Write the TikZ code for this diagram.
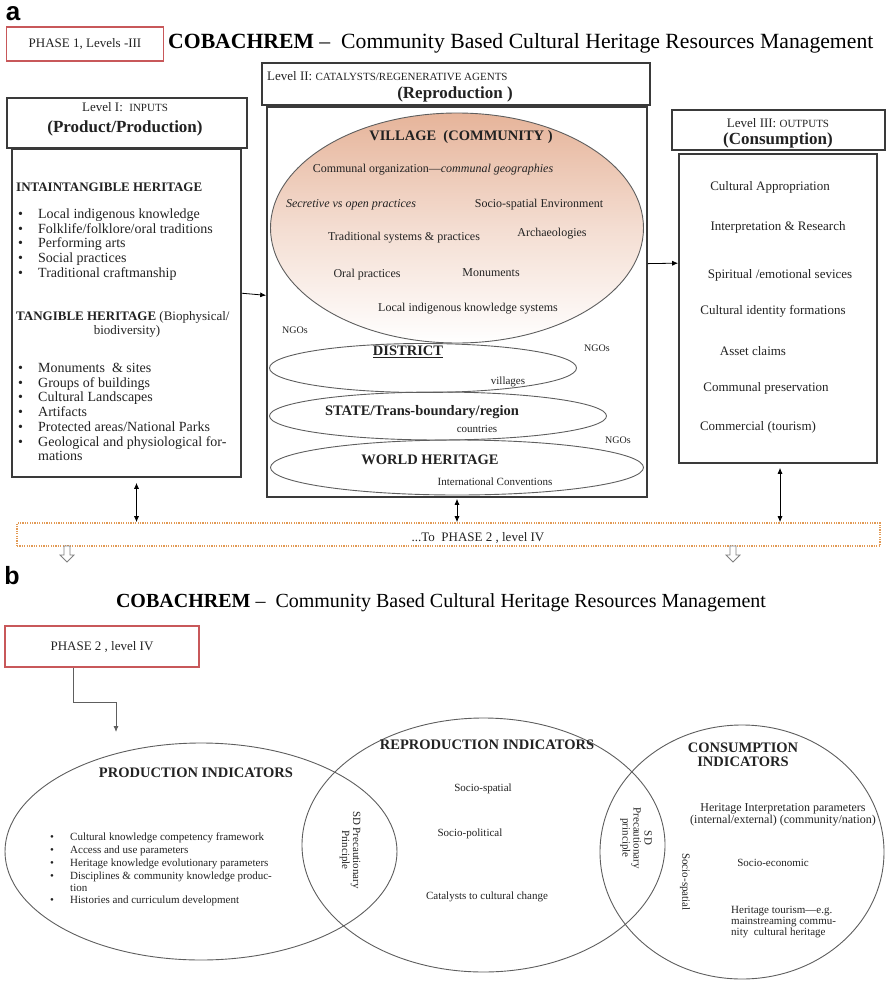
\documentclass[tikz,border=0pt]{standalone}
\usepackage{fontspec}
\setmainfont{Liberation Serif}
\newfontfamily\sansbold{Liberation Sans}
\usetikzlibrary{shapes.geometric,arrows.meta,calc}
\definecolor{redbox}{HTML}{C8585A}
\definecolor{dotorange}{HTML}{E29A55}
\definecolor{salmon}{HTML}{E6B49A}
\definecolor{boxline}{HTML}{3A3A3A}
\definecolor{ellline}{HTML}{5E5E5E}
\definecolor{txtgray}{HTML}{222222}
\newcommand\fsz[1]{\fontsize{#1}{#1}\selectfont}
\begin{document}
\begin{tikzpicture}[x=1pt,y=-1pt,
  box/.style={draw=boxline, line width=1.6pt, inner sep=0pt},
  redb/.style={draw=redbox, line width=1.3pt, inner sep=0pt},
  ell/.style={ellipse, draw=ellline, line width=0.9pt, inner sep=0pt},
  txt/.style={inner sep=0pt, text=txtgray},
  arr/.style={-{Latex[length=6pt,width=5pt]}, line width=0.8pt},
  darr/.style={{Latex[length=6pt,width=5pt]}-{Latex[length=6pt,width=5pt]}, line width=0.8pt},
  hollow/.style={draw=gray, line width=0.8pt, fill=white},
]
\useasboundingbox (0,0) rectangle (887,982);

% ---------------- part a ----------------
\node[txt, font=\sansbold\bfseries\fsz{26}, text=black] (laba) at (13,14) {a};
\node[redb, minimum width=157pt, minimum height=34pt] (ph1) at (85,44) {};
\node[txt, font=\fsz{13}] (ph1t) at (85,44) {PHASE 1, Levels -III};
\node[txt, anchor=west, text=black] (titlea) at (168,43) {\fsz{21.7}\textbf{COBACHREM} –\ \ Community Based Cultural Heritage Resources Management};

% Level I
\node[box, minimum width=240pt, minimum height=50pt] (l1h) at (127,123) {};
\node[txt, font=\fsz{13}] (l1ha) at (125,107) {Level I:\ \ {\fsz{11}INPUTS}};
\node[txt, font=\bfseries\fsz{17}] (l1hb) at (125,128) {(Product/Production)};
\node[box, minimum width=229pt, minimum height=328pt] (l1b) at (126.5,313) {};

\node[txt, anchor=base west, font=\bfseries\fsz{13}] (inth) at (16,191.5) {INTAINTANGIBLE HERITAGE};
\foreach [count=\k] \t in {Local indigenous knowledge, Folklife/folklore/oral traditions, Performing arts, Social practices, Traditional craftmanship}
  \node[txt, anchor=base west, font=\fsz{14}] (ia\k) at (18,{203.8+14.7*\k}) {\makebox[20pt][l]{\textbullet}\t};
\node[txt, anchor=base west, font=\fsz{13}] (tanh) at (16,320.5) {\textbf{TANGIBLE HERITAGE} (Biophysical/};
\node[txt, anchor=base, font=\fsz{13}] (tanh2) at (127,334) {biodiversity)};
\foreach [count=\k] \t in {Monuments \ \& sites, Groups of buildings, Cultural Landscapes, Artifacts, Protected areas/National Parks, Geological and physiological for-}
  \node[txt, anchor=base west, font=\fsz{14}] (ta\k) at (18,{357.8+14.7*\k}) {\makebox[20pt][l]{\textbullet}\t};
\node[txt, anchor=base west, font=\fsz{14}] (ta7) at (38,460.5) {mations};

% Level II
\node[box, minimum width=388pt, minimum height=42pt] (l2h) at (456,84) {};
\node[txt, anchor=west, font=\fsz{13}] (l2ha) at (267,76) {Level II: {\fsz{11}CATALYSTS/REGENERATIVE AGENTS}};
\node[txt, font=\bfseries\fsz{17}] (l2hb) at (455,94) {(Reproduction )};
\node[box, minimum width=380pt, minimum height=390pt] (l2b) at (457,302) {};

\node[ell, top color=salmon, bottom color=white, middle color=salmon!45, minimum width=373pt, minimum height=230pt] (village) at (457,228) {};
\node[ell, minimum width=307pt, minimum height=49pt] (district) at (423,368) {};
\node[ell, minimum width=337pt, minimum height=48pt] (state) at (438,416) {};
\node[ell, minimum width=373pt, minimum height=55pt] (world) at (457,467.5) {};

\node[txt, font=\bfseries\fsz{14.5}] (vt) at (461,137) {VILLAGE\ \ (COMMUNITY )};
\node[txt, font=\fsz{12}] (v1) at (433,170) {Communal organization—\textit{communal geographies}};
\node[txt, font=\itshape\fsz{12}] (v2) at (351,205) {Secretive vs open practices};
\node[txt, font=\fsz{12}] (v3) at (539,205) {Socio-spatial Environment};
\node[txt, font=\fsz{12}] (v4) at (404,238) {Traditional systems \& practices};
\node[txt, font=\fsz{12}] (v5) at (552,234) {Archaeologies};
\node[txt, font=\fsz{12}] (v6) at (367,275) {Oral practices};
\node[txt, font=\fsz{12}] (v7) at (491,273) {Monuments};
\node[txt, font=\fsz{12}] (v8) at (468,309) {Local indigenous knowledge systems};
\node[txt, font=\fsz{10}] (ngo1) at (295,330) {NGOs};
\node[txt, font=\fsz{10}] (ngo2) at (597,348) {NGOs};
\node[txt, font=\bfseries\fsz{14.5}] (dt) at (408,352) {\underline{DISTRICT}};
\node[txt, font=\fsz{11}] (dv) at (508,382) {villages};
\node[txt, font=\bfseries\fsz{14.5}] (st) at (422,412) {STATE/Trans-boundary/region};
\node[txt, font=\fsz{11}] (sc) at (477,429) {countries};
\node[txt, font=\fsz{10}] (ngo3) at (618,440) {NGOs};
\node[txt, font=\bfseries\fsz{14.5}] (wt) at (430,460) {WORLD HERITAGE};
\node[txt, font=\fsz{11}] (wc) at (495,482) {International Conventions};

% Level III
\node[box, minimum width=213pt, minimum height=40pt] (l3h) at (778.5,130) {};
\node[txt, font=\fsz{13}] (l3ha) at (778,123) {Level III: {\fsz{11}OUTPUTS}};
\node[txt, font=\bfseries\fsz{17}] (l3hb) at (778,140) {(Consumption)};
\node[box, minimum width=198pt, minimum height=309pt] (l3b) at (778,308.5) {};
\node[txt, font=\fsz{13}] (o1) at (770,187) {Cultural Appropriation};
\node[txt, font=\fsz{13}] (o2) at (778,227) {Interpretation \& Research};
\node[txt, font=\fsz{13}] (o3) at (780,275) {Spiritual /emotional sevices};
\node[txt, font=\fsz{13}] (o4) at (773,311) {Cultural identity formations};
\node[txt, font=\fsz{13}] (o5) at (753,351) {Asset claims};
\node[txt, font=\fsz{13}] (o6) at (766,388) {Communal preservation};
\node[txt, font=\fsz{13}] (o7) at (758,427) {Commercial (tourism)};

% connectors between levels
\draw[arr] ($(l1b.north east)!0.44!(l1b.south east)$) -- ($(l2b.north west)!0.483!(l2b.south west)$);
\draw[arr] ($(l2b.north east)!0.402!(l2b.south east)$) -- ($(l3b.north west)!0.354!(l3b.south west)$);

% to phase 2 bar
\node[draw=dotorange, line width=1.6pt, dash pattern=on 1.2pt off 1.2pt, minimum width=863pt, minimum height=23pt, inner sep=0pt] (dotbox) at (448.5,534.5) {};
\node[txt, font=\fsz{13}] (dott) at (478,538) {...To\ \ PHASE 2 , level IV};
\draw[darr] ([xshift=10pt,yshift=-5pt]l1b.south) -- ([xshift=10pt]l1b.south |- dotbox.north);
\draw[darr] ([yshift=-1pt]l2b.south) -- (l2b.south |- dotbox.north);
\draw[darr] ([xshift=2pt,yshift=-4pt]l3b.south) -- ([xshift=2pt]l3b.south |- dotbox.north);
\draw[hollow] (64,546) -- (70,546) -- (70,555) -- (74,555) -- (67,562) -- (60,555) -- (64,555) -- cycle;
\draw[hollow] (730,546) -- (736,546) -- (736,555) -- (740,555) -- (733,562) -- (726,555) -- (730,555) -- cycle;

% ---------------- part b ----------------
\node[txt, font=\sansbold\bfseries\fsz{25}, text=black] (labb) at (12,576) {b};
\node[txt, text=black] (titleb) at (441,603) {\fsz{20}\textbf{COBACHREM} –\ \ Community Based Cultural Heritage Resources Management};
\node[redb, minimum width=194pt, minimum height=41pt] (ph2) at (102,646.5) {};
\node[txt, font=\fsz{13}] (ph2t) at (102,647) {PHASE 2 , level IV};
\coordinate (p2mid) at (116,702);
\coordinate (p2end) at (116,732);
\draw[arr, draw=ellline] ([xshift=-29pt]ph2.south) |- (p2mid) -- (p2end);

\node[ell, minimum width=392pt, minimum height=217pt] (prod) at (201,851.5) {};
\node[ell, minimum width=363pt, minimum height=254pt] (repro) at (483.5,845) {};
\node[ell, minimum width=284pt, minimum height=254pt] (cons) at (742,852) {};

\node[txt, font=\bfseries\fsz{14.5}] (pt) at (196,773) {PRODUCTION INDICATORS};
\foreach [count=\k] \t in {Cultural knowledge competency framework, Access and use parameters, Heritage knowledge evolutionary parameters, Disciplines \& community knowledge produc-}
  \node[txt, anchor=base west, font=\fsz{11}] (pi\k) at (50,{827.5+13*\k}) {\makebox[20pt][l]{\textbullet}\t};
\node[txt, anchor=base west, font=\fsz{11}] (pi5) at (70,891.5) {tion};
\node[txt, anchor=base west, font=\fsz{11}] (pi6) at (50,903.5) {\makebox[20pt][l]{\textbullet}Histories and curriculum development};

\node[txt, font=\bfseries\fsz{14.5}] (rt) at (487,745) {REPRODUCTION INDICATORS};
\node[txt, font=\fsz{11}] (r1) at (483,789) {Socio-spatial};
\node[txt, font=\fsz{11}] (r2) at (470,834) {Socio-political};
\node[txt, font=\fsz{11}] (r3) at (487,897) {Catalysts to cultural change};
\node[txt, font=\fsz{11}, align=center, rotate=-90] (sd1) at (350,850) {SD Precautionary\\Principle};

\node[txt, font=\bfseries\fsz{14.5}, align=center] (ct) at (743,755) {CONSUMPTION\\INDICATORS};
\node[txt, font=\fsz{11}, align=center, rotate=-90] (sd2) at (636,838) {SD\\Precautionary\\principle};
\node[txt, font=\fsz{11}, rotate=-90] (c0) at (685,882) {Socio-spatial};
\node[txt, font=\fsz{12}, align=center] (c1) at (783,815) {Heritage Interpretation parameters\\(internal/external) (community/nation)};
\node[txt, font=\fsz{11}] (c2) at (773,863) {Socio-economic};
\node[txt, font=\fsz{11}, align=left, anchor=west] (c3) at (731,922) {Heritage tourism—e.g.\\mainstreaming commu-\\nity\ \ cultural heritage};
\end{tikzpicture}
\end{document}
